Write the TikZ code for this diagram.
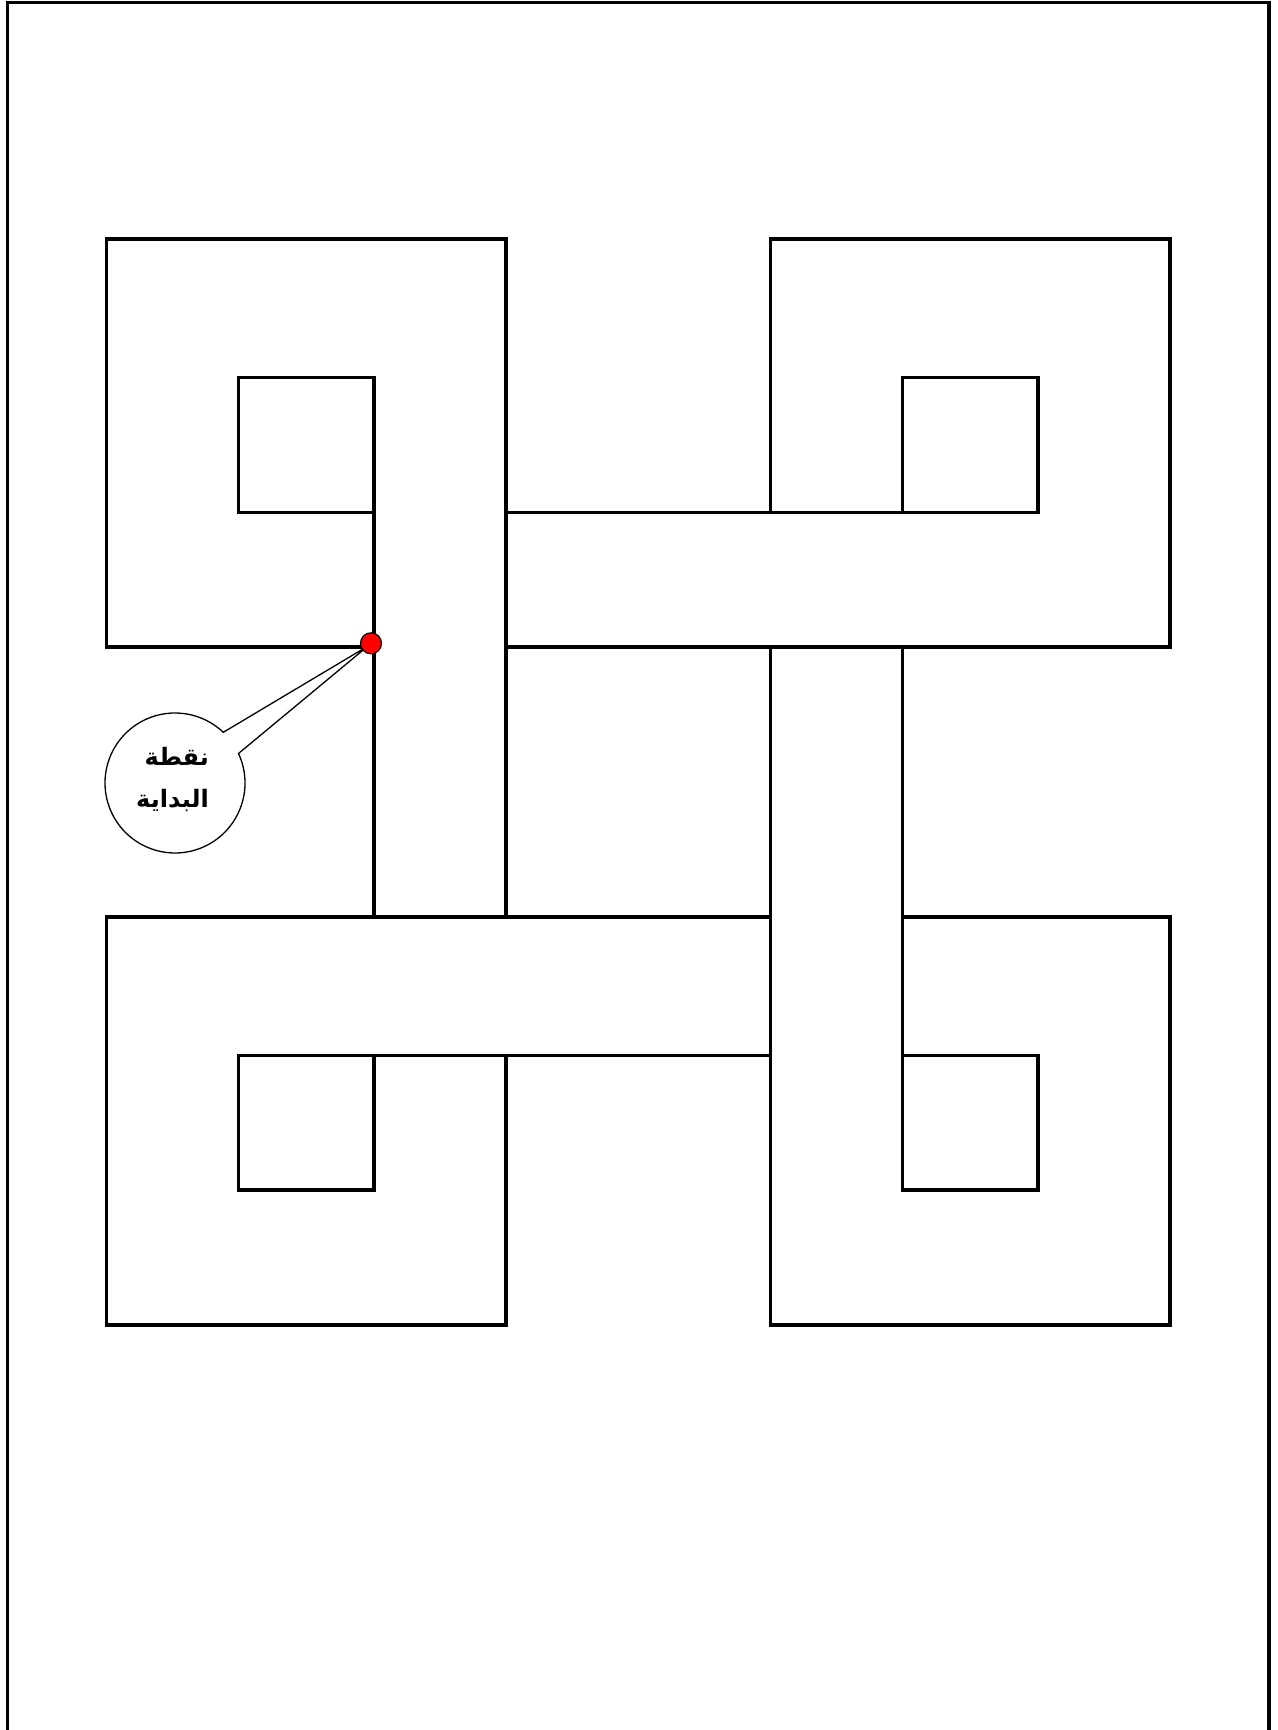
\documentclass[tikz,border=0pt]{standalone}
\usepackage{fontspec}
\newfontfamily\arabicfont[Script=Arabic]{DejaVu Sans}
\TeXXeTstate=1
\def\xa{106.7}\def\xb{238.5}\def\xc{374}\def\xd{506}
\def\xe{770.3}\def\xf{902.5}\def\xg{1038}\def\xh{1170}
\def\yA{239}\def\yB{377.7}\def\yC{512.5}\def\yD{647}
\def\yE{917}\def\yF{1055.5}\def\yG{1190}\def\yH{1325}
\tikzset{
  knot/.style={line width=1.65pt, line join=miter, line cap=rect},
  frameline/.style={line width=1.7pt},
  callout/.style={line width=0.65pt, fill=white, line join=miter},
  startdot/.style={circle, draw, fill=red, line width=0.6pt, minimum size=10.5pt, inner sep=0pt},
  calltext/.style={anchor=east, align=right, font=\arabicfont\bfseries\fontsize{12}{21}\selectfont}
}
\begin{document}
\begin{tikzpicture}[x=0.5pt, y=-0.5pt]
\useasboundingbox (0,0) rectangle (1278,1730);
% page frame (open at the bottom)
\draw[frameline] (7.7,1730) -- (7.7,2.7) -- (1269,2.7) -- (1269,1730);
% top-left
\draw[knot] (\xc,\yD) -- (\xa,\yD) -- (\xa,\yA) -- (\xd,\yA) -- (\xd,\yE);
\draw[knot] (\xc,\yE) -- (\xc,\yB) -- (\xb,\yB) -- (\xb,\yC) -- (\xc,\yC);
% top-right
\draw[knot] (\xe,\yC) -- (\xe,\yA) -- (\xh,\yA) -- (\xh,\yD);
\draw[knot] (\xd,\yC) -- (\xg,\yC) -- (\xg,\yB) -- (\xf,\yB) -- (\xf,\yC);
\draw[knot] (\xd,\yD) -- (\xh,\yD);
% bottom-left
\draw[knot] (\xe,\yE) -- (\xa,\yE) -- (\xa,\yH) -- (\xd,\yH) -- (\xd,\yF);
\draw[knot] (\xe,\yF) -- (\xb,\yF) -- (\xb,\yG) -- (\xc,\yG) -- (\xc,\yF);
% bottom-right
\draw[knot] (\xe,\yD) -- (\xe,\yH) -- (\xh,\yH) -- (\xh,\yE) -- (\xf,\yE);
\draw[knot] (\xf,\yD) -- (\xf,\yG) -- (\xg,\yG) -- (\xg,\yF) -- (\xf,\yF);
% callout
\coordinate (p1) at (223.3,732.3);
\coordinate (tip) at (368,646);
\coordinate (p2) at (238.5,753.5);
\draw[callout] (p1) -- (tip) -- (p2) arc[start angle=-24.9, end angle=313.6, radius=70] -- cycle;
\node[calltext] (label) at (216,779) {\beginR نقطة\endR\\\beginR البداية\endR};
\node[startdot] (start) at (371,643.3) {};
\end{tikzpicture}
\end{document}
